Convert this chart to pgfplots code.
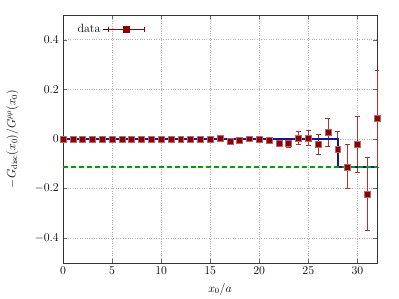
\documentclass[border=0pt,12pt]{standalone}
\usepackage{pgfplots}
\pgfplotsset{compat=1.18}
\definecolor{dred}{RGB}{140,0,0}
\definecolor{ered}{RGB}{175,50,50}
\definecolor{navyb}{RGB}{20,20,150}
\definecolor{dgreen}{RGB}{0,160,0}
\begin{document}
\begin{tikzpicture}
\begin{axis}[
  name=ax, at={(0,0)}, anchor=south west,
  scale only axis, width=314bp, height=248bp,
  xmin=0, xmax=32, ymin=-0.5, ymax=0.5,
  xtick={0,5,...,30}, ytick={-0.4,-0.2,0,0.2,0.4},
  yticklabel style={/pgf/number format/fixed},
  grid=major, major grid style={gray!60, dotted, line width=0.6pt},
  axis line style={black!80, line width=0.9pt},
  tick style={black!60},
  xlabel={$x_0/a$},
  ylabel={$-G_{\rm disc}(x_0)/G^{\rho\rho}(x_0)$},
  ylabel style={yshift=8pt},
  clip=false,
  legend plot pos=right,
  legend style={draw=none, fill=none, at={(0.03,0.98)}, anchor=north west, font=\normalsize},
  legend image code/.code={
    \path (0bp,0bp) -- (42bp,0bp);
    \draw[dred, line width=0.7pt] (6bp,0bp) -- (42bp,0bp);
    \draw[dred, line width=0.7pt] (6bp,-2.5bp) -- (6bp,2.5bp);
    \draw[dred, line width=0.7pt] (42bp,-2.5bp) -- (42bp,2.5bp);
    \fill[dred] (21bp,-3bp) rectangle (27bp,3bp);
  },
]
\addplot[only marks, mark=square*, mark size=3pt, mark options={fill=dred, draw=dred!60!white, line width=0.5pt},
  error bars/.cd, y dir=both, y explicit,
  error bar style={ered, line width=0.8pt},
  error mark options={rotate=90, mark size=2.5pt, ered, line width=0.8pt}]
table[x=x, y=y, y error=e] {
x y e
0 0 0.003
1 0 0.003
2 0 0.003
3 0 0.003
4 0 0.003
5 0 0.003
6 0 0.003
7 0 0.003
8 0 0.003
9 0 0.003
10 0 0.003
11 0 0.003
12 0 0.003
13 0 0.003
14 0 0.003
15 0 0.004
16 0.003 0.005
17 -0.008 0.006
18 -0.005 0.006
19 0.001 0.006
20 0.0 0.007
21 -0.007 0.008
22 -0.018 0.010
23 -0.017 0.016
24 0.004 0.026
25 0.004 0.030
26 -0.021 0.040
27 0.027 0.055
28 -0.042 0.072
29 -0.112 0.089
30 -0.022 0.113
31 -0.222 0.146
32 0.082 0.196
};
\addlegendentry{data}
\addplot[navyb, line width=1.6pt, forget plot] coordinates {(0,0) (28,0) (28,-0.113) (32,-0.113)};
\addplot[dgreen, line width=1.3pt, dash pattern=on 5pt off 3pt, forget plot] coordinates {(0,-0.113) (32,-0.113)};
\end{axis}
\path (-63bp,-36bp) rectangle (336bp,263bp);
\end{tikzpicture}
\end{document}
